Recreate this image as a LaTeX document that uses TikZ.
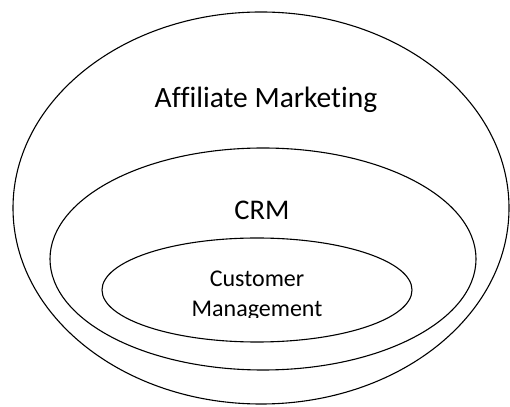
\documentclass[tikz,border=0pt]{standalone}
\usepackage{fontspec}
\setmainfont{Carlito}[Ligatures=CommonOff]
\usepackage{tikz}

\begin{document}
\begin{tikzpicture}[x=1pt,y=1pt,line width=1.1pt]
\useasboundingbox (0,0) rectangle (510,406);
\draw (261,198) ellipse [x radius=248,y radius=196];
\draw (263,147) ellipse [x radius=213,y radius=111];
\draw (257,116) ellipse [x radius=155,y radius=52];
\node[font=\fontsize{29.5}{32}\selectfont,inner sep=0] (am) at (266,306) {Affiliate Marketing};
\node[font=\fontsize{28.5}{32}\selectfont,inner sep=0] (crm) at (262,196) {CRM};
\node[font=\fontsize{24}{30}\selectfont,anchor=base,inner sep=0] (cust) at (257,119) {Customer};
\begin{scope}
\clip (100,88) rectangle (420,140);
\node[font=\fontsize{24}{30}\selectfont,anchor=base,inner sep=0] (mgmt) at (257,89) {Management};
\end{scope}
\end{tikzpicture}
\end{document}
